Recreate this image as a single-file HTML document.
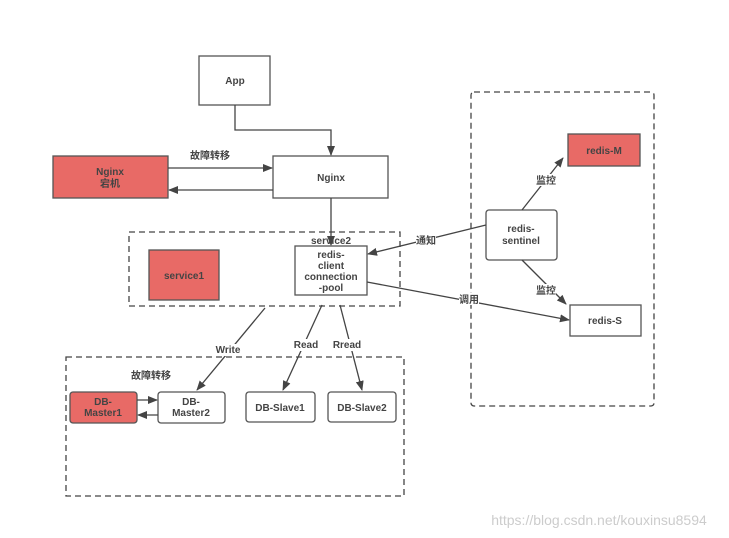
<!DOCTYPE html>
<html><head><meta charset="utf-8"><style>
html,body{margin:0;padding:0;background:#fff;}
svg{display:block;}
text{font-family:"Liberation Sans","Noto Sans CJK SC",sans-serif;font-size:10px;font-weight:bold;fill:#444;text-anchor:middle;}
.b{fill:#fff;stroke:#555;stroke-width:1.3;}
.r{fill:#e86a66;stroke:#555;stroke-width:1.3;}
.d{fill:none;stroke:#444;stroke-width:1.3;stroke-dasharray:6,4;}
.l{fill:none;stroke:#444;stroke-width:1.3;}
</style></head><body>
<svg width="729" height="538" viewBox="0 0 729 538">
<defs><marker id="a" markerWidth="10" markerHeight="8" refX="9" refY="4" orient="auto" markerUnits="userSpaceOnUse"><path d="M0,0 L10,4 L0,8 z" fill="#444"/></marker></defs>
<rect class="d" x="129" y="232" width="271" height="74"/>
<rect class="d" x="471" y="92" width="183" height="314" rx="3"/>
<rect class="d" x="66" y="357" width="338" height="139"/>
<rect class="b" x="199" y="56" width="71" height="49"/>
<text x="235" y="84">App</text>
<rect class="b" x="273" y="156" width="115" height="42"/>
<text x="331" y="181">Nginx</text>
<rect class="r" x="53" y="156" width="115" height="42"/>
<text x="110" y="175">Nginx</text><text x="110" y="187">宕机</text>
<rect class="r" x="149" y="250" width="70" height="50"/>
<text x="184" y="279">service1</text>
<rect class="b" x="295" y="246" width="72" height="49"/>
<text x="331" y="244">service2</text>
<text x="331" y="258">redis-</text><text x="331" y="269">client</text><text x="331" y="280">connection</text><text x="331" y="291">-pool</text>
<rect class="r" x="568" y="134" width="72" height="32"/>
<text x="604" y="154">redis-M</text>
<rect class="b" x="486" y="210" width="71" height="50" rx="3"/>
<text x="521" y="232">redis-</text><text x="521" y="244">sentinel</text>
<rect class="b" x="570" y="305" width="71" height="31"/>
<text x="605" y="324">redis-S</text>
<rect class="r" x="70" y="392" width="67" height="31" rx="3"/>
<text x="103" y="405">DB-</text><text x="103" y="416">Master1</text>
<rect class="b" x="158" y="392" width="67" height="31" rx="3"/>
<text x="191" y="405">DB-</text><text x="191" y="416">Master2</text>
<rect class="b" x="246" y="392" width="69" height="30" rx="3"/>
<text x="280" y="411">DB-Slave1</text>
<rect class="b" x="328" y="392" width="68" height="30" rx="3"/>
<text x="362" y="411">DB-Slave2</text>
<path class="l" d="M235,105 V130 H331 V155" marker-end="url(#a)"/>
<path class="l" d="M168,168 H272" marker-end="url(#a)"/>
<path class="l" d="M273,190 H169" marker-end="url(#a)"/>
<path class="l" d="M331,198 V245" marker-end="url(#a)"/>
<path class="l" d="M486,225 L368,254" marker-end="url(#a)"/>
<path class="l" d="M367,282 L569,320" marker-end="url(#a)"/>
<path class="l" d="M522,210 L563,158" marker-end="url(#a)"/>
<path class="l" d="M522,260 L566,304" marker-end="url(#a)"/>
<path class="l" d="M265,308 L197,390" marker-end="url(#a)"/>
<path class="l" d="M322,305 L283,390" marker-end="url(#a)"/>
<path class="l" d="M340,305 L362,390" marker-end="url(#a)"/>
<path class="l" d="M137,400 H157" marker-end="url(#a)"/>
<path class="l" d="M158,415 H138" marker-end="url(#a)"/>
<g style="font-weight:normal">
<rect x="536" y="174" width="20" height="12" fill="#fff"/><text x="546" y="184">监控</text>
<rect x="536" y="284" width="20" height="12" fill="#fff"/><text x="546" y="294">监控</text>
<rect x="416" y="234" width="20" height="12" fill="#fff"/><text x="426" y="244">通知</text>
<rect x="459" y="293" width="20" height="12" fill="#fff"/><text x="469" y="303">调用</text>
<text x="210" y="159">故障转移</text>
<text x="151" y="379">故障转移</text>
</g>
<rect x="213" y="344" width="30" height="12" fill="#fff"/><text x="228" y="353">Write</text>
<rect x="292" y="339" width="28" height="12" fill="#fff"/><text x="306" y="348">Read</text>
<rect x="331" y="339" width="32" height="12" fill="#fff"/><text x="347" y="348">Rread</text>
<text x="599" y="525" style="font-weight:normal;font-size:14px;fill:#ccc">https://blog.csdn.net/kouxinsu8594</text>
</svg>
</body></html>
